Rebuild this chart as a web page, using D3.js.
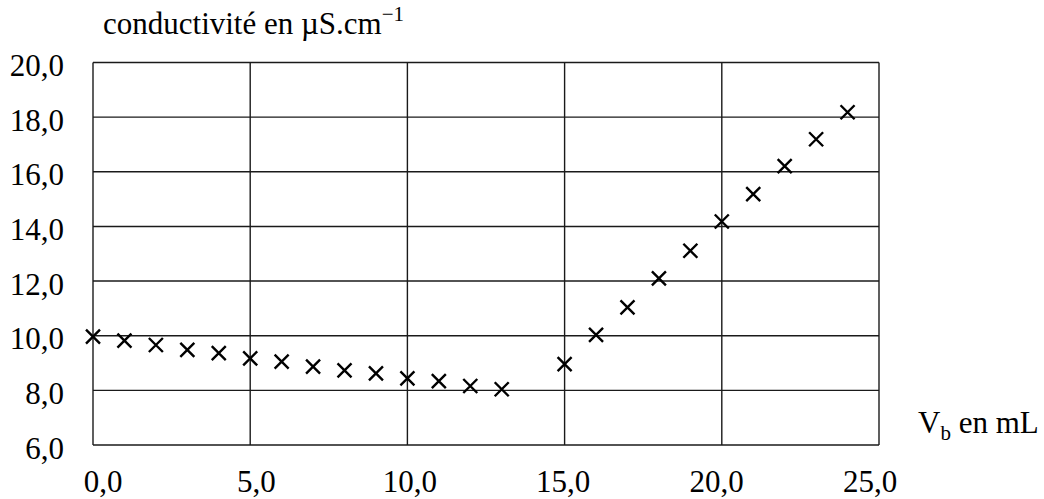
<!DOCTYPE html>
<html>
<head>
<meta charset="utf-8">
<script src="https://cdn.jsdelivr.net/npm/d3@7"></script>
<style>
  html, body { margin: 0; padding: 0; background: #fff; }
</style>
</head>
<body>
<svg id="chart" width="1044" height="499"></svg>
<script>
// volume of base added (mL) and measured conductivity (µS.cm-1)
const volumes = [0, 1, 2, 3, 4, 5, 6, 7, 8, 9, 10, 11, 12, 13, 15, 16, 17, 18, 19, 20, 21, 22, 23, 24];
const conductivity = [9.97, 9.82, 9.66, 9.48, 9.36, 9.17, 9.05, 8.87, 8.73, 8.62, 8.44, 8.34, 8.16, 8.04,
                      8.96, 10.03, 11.04, 12.1, 13.11, 14.18, 15.18, 16.21, 17.19, 18.18];
const xTicks = [0, 5, 10, 15, 20, 25];
const yTicks = [6, 8, 10, 12, 14, 16, 18, 20];

(function () {
  const FONT = '"Liberation Serif", Tinos, "Times New Roman", Times, serif';
  const fmt = v => v.toFixed(1).replace('.', ',');

  const svg = d3.select('#chart');
  const mLeft = 93, mRight = 879, mTop = 62.5, mBottom = 445;

  const x = d3.scaleLinear().domain([0, 25]).range([mLeft, mRight]);
  const y = d3.scaleLinear().domain([6, 20]).range([mBottom, mTop]);
  // tick labels sit slightly inside the frame (spreadsheet style)
  const xLab = d3.scaleLinear().domain([0, 25]).range([mLeft + 9.5, mRight - 9.5]);

  // grid
  const grid = svg.append('g').attr('stroke', '#1a1a1a').attr('stroke-width', 1.4);
  grid.selectAll('line.v').data(xTicks).join('line').attr('class', 'v')
    .attr('x1', d => x(d)).attr('x2', d => x(d)).attr('y1', mTop).attr('y2', mBottom);
  grid.selectAll('line.h').data(yTicks).join('line').attr('class', 'h')
    .attr('x1', mLeft).attr('x2', mRight).attr('y1', d => y(d)).attr('y2', d => y(d));

  // axes (labels only)
  const yAxis = svg.append('g')
    .attr('transform', `translate(${mLeft},0)`)
    .call(d3.axisLeft(y).tickValues(yTicks).tickFormat(fmt).tickSize(0).tickPadding(29));
  yAxis.select('.domain').remove();
  yAxis.attr('font-family', null).attr('font-size', null);
  yAxis.selectAll('text').attr('dy', '0.42em')
    .style('font-family', FONT).style('font-size', '31px').attr('fill', '#000');

  const xAxis = svg.append('g')
    .attr('transform', `translate(0,${mBottom})`)
    .call(d3.axisBottom(xLab).tickValues(xTicks).tickFormat(fmt).tickSize(0).tickPadding(0));
  xAxis.select('.domain').remove();
  xAxis.attr('font-family', null).attr('font-size', null);
  xAxis.selectAll('text').attr('dy', 47)
    .style('font-family', FONT).style('font-size', '31px').attr('fill', '#000');

  // markers
  const pts = d3.zip(volumes, conductivity);
  const s = 7;
  svg.append('g').selectAll('path').data(pts).join('path')
    .attr('d', d => {
      const cx = x(d[0]), cy = y(d[1]);
      return `M${cx - s},${cy - s}L${cx + s},${cy + s}M${cx - s},${cy + s}L${cx + s},${cy - s}`;
    })
    .attr('stroke', '#000').attr('stroke-width', 2.4).attr('fill', 'none');

  // titles
  const t1 = svg.append('text').attr('x', 103).attr('y', 34)
    .style('font-family', FONT).style('font-size', '31px');
  t1.append('tspan').text('conductivité en µS.cm');
  t1.append('tspan').attr('dy', -13).style('font-size', '21px').text('−1');

  const t2 = svg.append('text').attr('x', 918).attr('y', 433)
    .style('font-family', FONT).style('font-size', '31px');
  t2.append('tspan').text('V');
  t2.append('tspan').attr('dy', 7).style('font-size', '21px').text('b');
  t2.append('tspan').attr('dy', -7).text(' en mL');
})();
</script>
</body>
</html>
